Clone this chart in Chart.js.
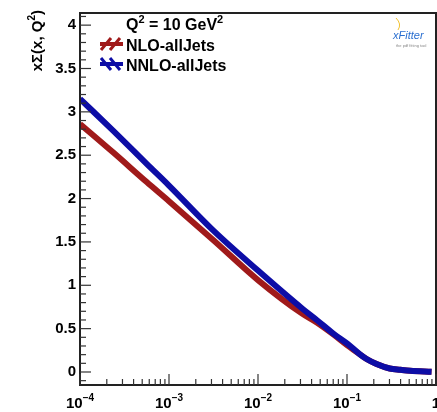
<!DOCTYPE html>
<html>
<head>
<meta charset="utf-8">
<script src="https://cdn.jsdelivr.net/npm/chart.js@4.4.1/dist/chart.umd.min.js"></script>
<style>
  body { margin: 0; background: #fff; }
  canvas { display: block; }
</style>
</head>
<body>
<canvas id="pdf" width="437" height="412"></canvas>
<script>
// values, x on a log axis
const xValues = [0.0001, 0.000237, 0.000562, 0.001, 0.00316, 0.01, 0.0316, 0.0457, 0.0708, 0.1, 0.141, 0.166, 0.215, 0.302, 0.398, 0.513, 0.891];
const nnloValues = [3.15, 2.78, 2.40, 2.15, 1.63, 1.17, 0.73, 0.60, 0.44, 0.33, 0.20, 0.15, 0.092, 0.04, 0.026, 0.015, 0.003];
const nloValues = [2.86, 2.53, 2.19, 1.97, 1.52, 1.06, 0.67, 0.57, 0.43, 0.31, 0.20, 0.15, 0.092, 0.04, 0.026, 0.015, 0.003];

const xTickValues = [1e-4, 1e-3, 1e-2, 1e-1, 1];
const xTickLabels = ['10^-4', '10^-3', '10^-2', '10^-1', '1'];
const yTickValues = [0, 0.5, 1, 1.5, 2, 2.5, 3, 3.5, 4];

const seriesNames = ['NLO-allJets', 'NNLO-allJets'];
const RED = '#a01a1a';
const BLUE = '#0d0da6';
const FONT = '"Liberation Sans", Arial, sans-serif';

// text with superscript parts
function richWidth(ctx, parts, fs) {
  let w = 0;
  parts.forEach(p => {
    ctx.font = 'bold ' + (p.sup ? Math.round(fs * 0.68) : fs) + 'px ' + FONT;
    w += ctx.measureText(p.t).width;
  });
  return w;
}
function drawRich(ctx, parts, x, y, fs) {
  ctx.textAlign = 'left';
  ctx.textBaseline = 'alphabetic';
  parts.forEach(p => {
    ctx.font = 'bold ' + (p.sup ? Math.round(fs * 0.68) : fs) + 'px ' + FONT;
    ctx.fillText(p.t, x, p.sup ? y - fs * 0.45 : y);
    x += ctx.measureText(p.t).width;
  });
}

const rootStyle = {
  id: 'rootStyle',
  afterDraw(chart) {
    const ctx = chart.ctx;
    const a = chart.chartArea;
    const xs = chart.scales.x, ys = chart.scales.y;
    ctx.save();
    ctx.fillStyle = '#000';

    // frame
    ctx.strokeStyle = '#222';
    ctx.lineWidth = 2;
    ctx.strokeRect(a.left, a.top, a.right - a.left, a.bottom - a.top);

    // y ticks, inward
    ctx.lineWidth = 1.2;
    ctx.strokeStyle = '#333';
    for (let i = -1; i <= 41; i++) {
      const py = ys.getPixelForValue(i / 10);
      if (py < a.top || py > a.bottom) continue;
      const len = i % 5 === 0 ? 11 : 6;
      ctx.beginPath();
      ctx.moveTo(a.left, py);
      ctx.lineTo(a.left + len, py);
      ctx.stroke();
    }
    // x ticks, inward
    for (let d = -4; d <= 0; d++) {
      for (let k = 1; k <= 9; k++) {
        const v = k * Math.pow(10, d);
        if (v > 1) break;
        const px = xs.getPixelForValue(v);
        const len = k === 1 ? 11 : 6;
        ctx.beginPath();
        ctx.moveTo(px, a.bottom);
        ctx.lineTo(px, a.bottom - len);
        ctx.stroke();
      }
    }

    // x tick labels with exponents
    xTickValues.forEach((v, i) => {
      const bits = xTickLabels[i].split('^');
      const parts = [{ t: bits[0] }];
      if (bits[1]) parts.push({ t: bits[1].replace('-', '\u2212'), sup: true });
      const w = richWidth(ctx, parts, 15);
      drawRich(ctx, parts, xs.getPixelForValue(v) - w / 2, 408, 15);
    });

    // y title, rotated
    ctx.save();
    ctx.translate(42, 10);
    ctx.rotate(-Math.PI / 2);
    const tparts = [{ t: 'x\u03A3(x, Q' }, { t: '2', sup: true }, { t: ')' }];
    const tw = richWidth(ctx, tparts, 15);
    drawRich(ctx, tparts, -tw, 0, 15);
    ctx.restore();

    // legend
    drawRich(ctx, [{ t: 'Q' }, { t: '2', sup: true }, { t: ' = 10 GeV' }, { t: '2', sup: true }], 126, 30, 16);
    drawRich(ctx, [{ t: seriesNames[0] }], 126, 51, 16);
    drawRich(ctx, [{ t: seriesNames[1] }], 126, 71, 16);

    ctx.lineCap = 'butt';
    // red symbol: band hatch + line
    ctx.strokeStyle = RED;
    ctx.lineWidth = 4;
    ctx.beginPath(); ctx.moveTo(100, 44); ctx.lineTo(123, 44); ctx.stroke();
    ctx.lineWidth = 3;
    ctx.beginPath();
    ctx.moveTo(101, 50); ctx.lineTo(111, 38);
    ctx.moveTo(110, 50); ctx.lineTo(120, 38);
    ctx.stroke();
    // blue symbol
    ctx.strokeStyle = BLUE;
    ctx.lineWidth = 4;
    ctx.beginPath(); ctx.moveTo(100, 64); ctx.lineTo(123, 64); ctx.stroke();
    ctx.lineWidth = 3;
    ctx.beginPath();
    ctx.moveTo(101, 58); ctx.lineTo(111, 70);
    ctx.moveTo(110, 58); ctx.lineTo(120, 70);
    ctx.stroke();

    // xFitter logo
    ctx.strokeStyle = '#f2c230';
    ctx.lineWidth = 1;
    ctx.beginPath();
    ctx.moveTo(396, 18);
    ctx.quadraticCurveTo(402, 24, 398, 30);
    ctx.stroke();
    ctx.fillStyle = '#2a6fd0';
    ctx.font = 'italic 11px ' + FONT;
    ctx.textAlign = 'left';
    ctx.fillText('xFitter', 393, 39);
    ctx.fillStyle = '#888';
    ctx.font = '4px ' + FONT;
    ctx.fillText('the pdf fitting tool', 396, 47);

    ctx.restore();
  }
};

new Chart(document.getElementById('pdf'), {
  type: 'line',
  data: {
    datasets: [
      {
        label: seriesNames[1],
        data: xValues.map((x, i) => ({ x: x, y: nnloValues[i] })),
        borderColor: BLUE,
        borderWidth: 6,
        pointRadius: 0,
        cubicInterpolationMode: 'monotone',
        fill: false
      },
      {
        label: seriesNames[0],
        data: xValues.map((x, i) => ({ x: x, y: nloValues[i] })),
        borderColor: RED,
        borderWidth: 6,
        pointRadius: 0,
        cubicInterpolationMode: 'monotone',
        fill: false
      }
    ]
  },
  options: {
    responsive: false,
    animation: false,
    devicePixelRatio: 1,
    layout: { padding: { top: 12, right: 1, left: 0, bottom: 0 } },
    plugins: {
      legend: { display: false },
      tooltip: { enabled: false }
    },
    scales: {
      x: {
        type: 'logarithmic',
        min: 1e-4,
        max: 1,
        grid: { display: false },
        border: { display: false },
        ticks: { display: false },
        afterFit(scale) { scale.height = 27; }
      },
      y: {
        type: 'linear',
        min: -0.15,
        max: 4.14,
        grid: { display: false, drawTicks: false },
        border: { display: false },
        afterBuildTicks(scale) { scale.ticks = yTickValues.map(v => ({ value: v })); },
        ticks: {
          color: '#000',
          padding: 4,
          font: { family: FONT, size: 15, weight: 'bold' },
          callback: v => String(v)
        },
        afterFit(scale) { scale.width = 80; }
      }
    }
  },
  plugins: [rootStyle]
});
</script>
</body>
</html>
